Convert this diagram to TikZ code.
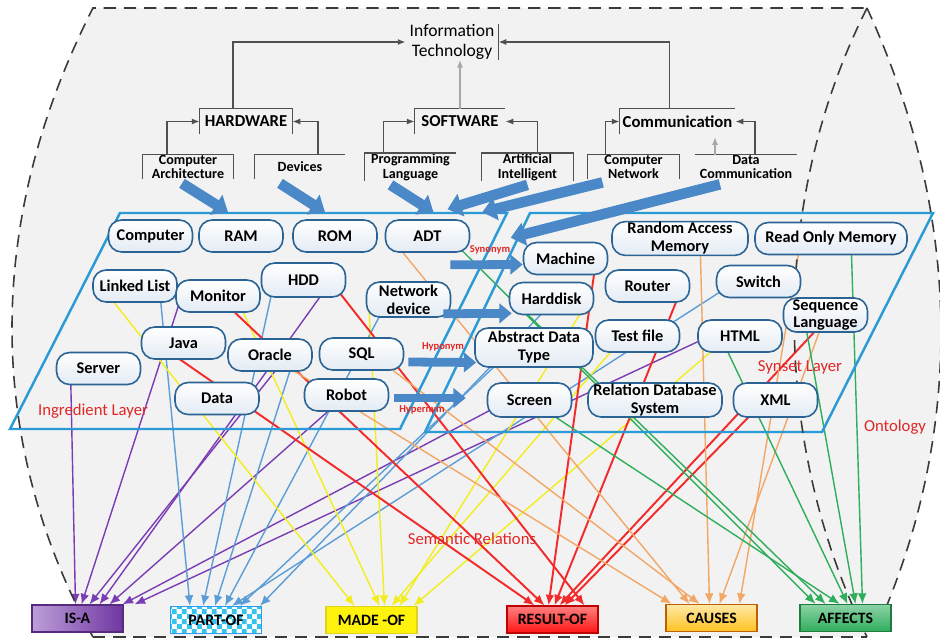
\documentclass[tikz,border=0pt]{standalone}
\usepackage{fontspec}
\setmainfont{Carlito}
\usepackage{xcolor}
\definecolor{ongray}{HTML}{F2F2F2}
\definecolor{ondash}{HTML}{3A3A3A}
\definecolor{onnode}{HTML}{2B6494}
\definecolor{onshade}{HTML}{E3EBF4}
\definecolor{onlayer}{HTML}{2A9BD7}
\definecolor{onarrow}{HTML}{4A88C7}
\definecolor{onred}{HTML}{E02626}
\definecolor{ontree}{HTML}{505050}
\definecolor{cisa}{HTML}{7B3DB3}
\definecolor{cpart}{HTML}{5C9DD8}
\definecolor{ccheck}{HTML}{35C4EE}
\definecolor{cmade}{HTML}{F2EE1E}
\definecolor{cres}{HTML}{F22A2A}
\definecolor{ccause}{HTML}{F2A766}
\definecolor{caustop}{HTML}{FFE9A6}
\definecolor{causbot}{HTML}{FFC21F}
\definecolor{caff}{HTML}{2FAE5C}
\usepackage{tikz}
\usetikzlibrary{arrows.meta,calc,patterns}
\pgfdeclarepatternformonly{finecheck}{\pgfpointorigin}{\pgfqpoint{5.6pt}{5.6pt}}{\pgfqpoint{5.6pt}{5.6pt}}{%
 \pgfpathrectangle{\pgfpointorigin}{\pgfqpoint{2.8pt}{2.8pt}}%
 \pgfpathrectangle{\pgfqpoint{2.8pt}{2.8pt}}{\pgfqpoint{2.8pt}{2.8pt}}%
 \pgfusepath{fill}}
\pgfdeclarelayer{bg}
\pgfsetlayers{bg,main}

\begin{document}
\begin{tikzpicture}[x=0.02cm,y=-0.02cm]
\tikzset{
 term/.style={draw=onnode,line width=0.9pt,rounded corners=7.5pt,top color=white,bottom color=onshade,minimum width=1.68cm,minimum height=0.64cm,inner sep=0.5pt,align=center,font=\fontsize{9.3}{10.2}\selectfont\bfseries},
 cat/.style={inner sep=0pt,minimum height=0.5cm,align=center,font=\fontsize{9.5}{11}\selectfont\bfseries},
 sub/.style={inner sep=0pt,minimum height=0.48cm,minimum width=1.8cm,align=center,font=\fontsize{8}{8.4}\selectfont\bfseries},
 frm/.style={draw=ontree,line width=0.8pt},
 tr/.style={draw=ontree,line width=0.9pt,-{Latex[length=4.5pt,width=3.5pt]}},
 trl/.style={tr,draw=ontree!50},
 big/.style={draw=onarrow,line width=6pt,-{Triangle[width=13pt,length=8pt]}},
 hbig/.style={draw=onarrow,line width=5pt,-{Triangle[width=11pt,length=7pt]}},
 lyr/.style={draw=onlayer,line width=1.4pt},
 outline/.style={draw=ondash,line width=0.9pt,dash pattern=on 7pt off 4.5pt},
 rel/.style={line width=0.8pt,-{Latex[length=6pt,width=5pt]}},
 box/.style={draw,line width=0.7pt,minimum width=1.82cm,minimum height=0.54cm,inner sep=0pt,font=\fontsize{9}{10}\selectfont\bfseries},
 lbl/.style={text=onred,inner sep=1pt,font=\fontsize{9.5}{11}\selectfont},
 tag/.style={text=onred,inner sep=0pt,font=\fontsize{6}{7}\selectfont\bfseries}
}
\useasboundingbox (0,0) rectangle (940,639);

% hierarchy
\node[cat,font=\fontsize{10}{11.2}\selectfont,minimum width=1.84cm,minimum height=0.64cm] (it) at (452,42) {Information\\Technology};
\node[cat,minimum width=1.84cm] (hw) at (246,121.5) {HARDWARE};
\node[cat,minimum width=1.8cm] (sw) at (460,121.5) {SOFTWARE};
\node[cat,minimum width=2.3cm] (comm) at (677.5,121.5) {Communication};
\node[sub] (ca) at (188,167) {Computer\\Architecture};
\node[sub] (dev) at (300,167) {Devices};
\node[sub,minimum width=1.82cm] (pl) at (410.5,167) {Programming\\Language};
\node[sub,minimum width=1.82cm] (ai) at (527.5,167) {Artificial\\Intelligent};
\node[sub,minimum width=1.82cm] (cn) at (633.5,167) {Computer\\Network};
\node[sub,minimum width=2.04cm] (dc) at (746,167) {Data\\Communication};
\draw[frm] (it.north east) -- (it.south east);
\draw[frm] (hw.south west) |- (hw.north east) -- (hw.south east);
\draw[frm] (sw.south west) |- (sw.north east);
\draw[frm] (comm.south west) |- (comm.north east);
\draw[frm] (ca.south west) |- (ca.north east) -- (ca.south east);
\draw[frm] (dev.south west) |- (dev.north east);
\draw[frm] (pl.south west) |- (pl.north east);
\draw[frm] (ai.south west) |- (ai.north east) -- (ai.south east);
\draw[frm] (cn.south west) |- (cn.north east) -- (cn.south east);
\draw[frm] (dc.north west) -- (dc.north east);
\draw[tr] (hw.north) ++(-13,0) |- (it.west);
\draw[tr] (comm.north) ++(-8,0) |- (it.east);
\draw[trl] (sw.north) -- (sw.north |- it.south);
\draw[tr] (ca.north) ++(-21,0) |- (hw.west);
\draw[tr] (dev.north) ++(18,0) |- (hw.east);
\draw[tr] (pl.north) ++(-27,0) |- (sw.west);
\draw[tr] (ai.north) ++(10,0) |- (sw.east);
\draw[tr] (cn.north) ++(-28,0) |- (comm.west);
\draw[tr] (dc.north) ++(9,0) |- (comm.east);
\coordinate (dcup) at (715,137);
\draw[trl] (dc.north -| dcup) -- (dcup);

% ingredient layer
\node[term] (comp) at (150.5,236) {Computer};
\node[term] (ram) at (241,236) {RAM};
\node[term] (rom) at (335,236) {ROM};
\node[term] (adt) at (427.5,236) {ADT};
\node[term] (llist) at (135,286) {Linked List};
\node[term] (monitor) at (218,296) {Monitor};
\node[term,minimum height=0.68cm] (hdd) at (303.5,280) {HDD};
\node[term,minimum height=0.7cm] (nd) at (408.5,299.5) {Network\\device};
\node[term] (java) at (183.5,343) {Java};
\node[term] (oracle) at (270,355) {Oracle};
\node[term] (sql) at (361.5,354) {SQL};
\node[term] (server) at (98.5,368.5) {Server};
\node[term] (data) at (217,398.5) {Data};
\node[term] (robot) at (346.5,395) {Robot};

% synset layer
\node[term] (mach) at (565.5,258.5) {Machine};
\node[term,minimum width=2.72cm] (ram2) at (680,238.5) {Random Access\\Memory};
\node[term,minimum width=3.04cm] (rom2) at (831,238.5) {Read Only Memory};
\node[term] (router) at (647.5,286) {Router};
\node[term] (switch) at (758.5,281.5) {Switch};
\node[term] (hdisk) at (551.5,298.5) {Harddisk};
\node[term,minimum height=0.68cm] (seq) at (825.5,315) {Sequence\\Language};
\node[term,minimum width=2.36cm,minimum height=0.78cm] (adt2) at (534,347.5) {Abstract Data\\Type};
\node[term] (test) at (637.5,336) {Test file};
\node[term] (html) at (740,336) {HTML};
\node[term,minimum height=0.68cm] (screen) at (529.5,400) {Screen};
\node[term,minimum width=2.68cm,minimum height=0.68cm] (rdbs) at (655,400) {Relation Database\\System};
\node[term,minimum height=0.68cm] (xml) at (775.5,400) {XML};

% relations
\node[box,draw=cisa!70!black,left color=cisa!50!white,right color=cisa!90!black] (isa) at (77.5,618.5) {IS-A};
\node[box,draw=ccheck!80!blue,preaction={fill=white},pattern=finecheck,pattern color=ccheck] (part) at (216,620) {PART-OF};
\node[box,draw=yellow!85!black,fill=yellow!95!white] (made) at (371.5,620) {MADE -OF};
\node[box,draw=red!75!black,top color=red!50!white,bottom color=red!92!white] (res) at (552.5,619.5) {RESULT-OF};
\node[box,draw=orange!75!black,top color=caustop,bottom color=causbot] (cause) at (711.5,618) {CAUSES};
\node[box,draw=caff!70!black,top color=caff!55!white,bottom color=caff] (aff) at (845.5,618) {AFFECTS};

\begin{pgfonlayer}{bg}
\fill[white] (0,0) rectangle (940,639);
\fill[ongray] (93,8) -- (867,8) .. controls (962,215) and (962,420) .. (887,605) -- (867,637) -- (93,637) .. controls (-15,440) and (-15,220) .. (93,8) -- cycle;
\foreach \s/\dx/\dy/\tx in {server/-28/0/-2,monitor/-38/5/4,oracle/10/10/12,hdd/25/5/22,robot/0/0/32,screen/-20/0/45,html/-30/0/57}
  \draw[rel,draw=cisa] ($(\s)+(\dx,\dy)$) -- ($(isa.north)+(\tx,0)$);
\foreach \s/\dx/\dy/\tx in {llist/25/8/-26,hdd/-30/5/-13,oracle/25/0/-1,nd/-20/0/9,switch/-30/5/16,adt2/-30/10/24,hdisk/0/5/44}
  \draw[rel,draw=cpart] ($(\s)+(\dx,\dy)$) -- ($(part.north)+(\tx,0)$);
\foreach \s/\dx/\dy/\tx in {llist/-30/5/-17,monitor/20/5/8,nd/-40/0/13,test/-20/8/20,hdisk/35/5/28,html/-20/8/42}
  \draw[rel,draw=cmade] ($(\s)+(\dx,\dy)$) -- ($(made.north)+(\tx,0)$);
\foreach \s/\dx/\dy/\tx in {java/-20/5/-18,monitor/10/10/-8,hdd/30/5/32,mach/30/5/-4,router/35/0/2,seq/0/5/7,xml/-20/10/12}
  \draw[rel,draw=cres,line width=1.1pt] ($(\s)+(\dx,\dy)$) -- ($(res.north)+(\tx,0)$);
\foreach \s/\dx/\dy/\tx in {oracle/-10/-5/-40,adt/-30/10/-22,sql/10/0/-12,ram2/20/0/-2,seq/0/0/8,rom2/-30/0/28}
  \draw[rel,draw=ccause] ($(\s)+(\dx,\dy)$) -- ($(cause.north)+(\tx,0)$);
\foreach \s/\dx/\dy/\tx in {adt/30/10/-30,hdisk/-30/10/-20,screen/0/0/-6,html/-15/10/2,seq/-20/10/10,rom2/20/0/17}
  \draw[rel,draw=caff] ($(\s)+(\dx,\dy)$) -- ($(aff.north)+(\tx,0)$);
\draw[lyr] (120,213) -- (507,213) -- (400,429) -- (10,429) -- cycle;
\draw[lyr] (530,213) -- (933,213) -- (822,432) -- (425,432) -- cycle;
\draw[outline] (93,637) .. controls (-15,440) and (-15,220) .. (93,8) -- (867,8);
\draw[outline] (93,637) -- (867,637);
\draw[outline] (867,8) .. controls (770,200) and (770,440) .. (867,637);
\draw[outline] (867,8) .. controls (962,215) and (962,420) .. (887,605);
\end{pgfonlayer}

% mapping arrows
\draw[big] ($(ca.south)+(-6,4)$) -- ($(ram.north)+(-13,-7)$);
\draw[big] ($(dev.south)+(-20,4)$) -- ($(rom.north)+(-10,-7)$);
\draw[big] ($(pl.south)+(-20,4)$) -- ($(adt.north)+(6,-7)$);
\draw[big] ($(ai.south)+(0,4)$) -- ($(adt.north)+(20,-10)$);
\draw[big] ($(cn.south)+(-31,3)$) -- ($(adt.north east)+(12,-7)$);
\draw[big] ($(dc.south)+(-26,5)$) -- ($(mach.north west)+(-12,-4)$);
\draw[hbig] ($(adt.south east)+(-20,12)$) -- ($(mach.west)+(0,6)$);
\draw[hbig] ($(nd.south east)+(-8,-4)$) -- ($(hdisk.south west)+(3,-2)$);
\draw[hbig] ($(sql.east)+(4,8)$) -- ($(adt2.west)+(2,15)$);
\draw[hbig] ($(robot.east)+(5,3)$) -- ($(screen.west)+(-21,-2)$);

\node[tag] (synon) at (490,250) {Synonym};
\node[tag] (hypo) at (443,347) {Hyponym};
\node[tag] (hyper) at (422,410) {Hypernym};
\node[lbl] (inglbl) at (93,411) {Ingredient Layer};
\node[lbl] (synlbl) at (800,367) {Synset Layer};
\node[lbl] (ontlbl) at (895,427) {Ontology};
\node[lbl] (semlbl) at (472,539) {Semantic Relations};
\end{tikzpicture}
\end{document}
